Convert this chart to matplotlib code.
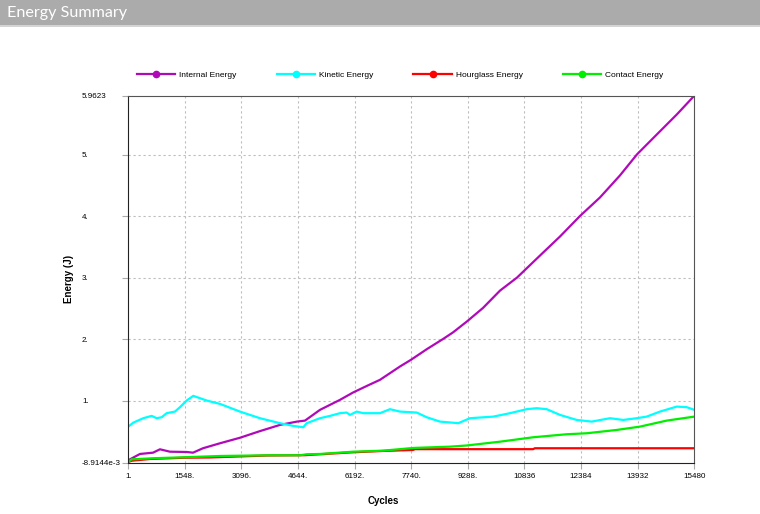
import matplotlib
matplotlib.use("Agg")
import matplotlib.pyplot as plt
from matplotlib.patches import Rectangle

# values
internal_cycles = [1, 47, 320, 676, 867, 1140, 1605, 1770, 2043, 2508, 3055, 3602, 4149,
                   4614, 4833, 5243, 5790, 6146, 6529, 6884, 7431, 7732, 8170, 8607, 8881,
                   9264, 9701, 10166, 10631, 11260, 11807, 12354, 12901, 13448, 13913,
                   14460, 15007, 15480]
internal_energy = [0.016, 0.043, 0.130, 0.151, 0.206, 0.167, 0.162, 0.151, 0.223, 0.304,
                   0.394, 0.502, 0.603, 0.657, 0.673, 0.848, 1.011, 1.130, 1.239, 1.337,
                   1.554, 1.663, 1.838, 2.001, 2.109, 2.288, 2.507, 2.789, 3.001, 3.360,
                   3.670, 4.004, 4.306, 4.665, 5.007, 5.334, 5.660, 5.9623]

kinetic_cycles = [1, 137, 410, 640, 777, 913, 1050, 1277, 1414, 1597, 1778, 2144, 2508,
                  3055, 3602, 4149, 4513, 4786, 4879, 5243, 5517, 5790, 5973, 6064, 6247,
                  6427, 6884, 7158, 7431, 7888, 8161, 8525, 9026, 9345, 9983, 10439, 10896,
                  11170, 11443, 11807, 12264, 12674, 13174, 13538, 13905, 14178, 14542,
                  14999, 15272, 15480]
kinetic_energy = [0.575, 0.640, 0.712, 0.750, 0.712, 0.728, 0.794, 0.820, 0.892, 1.000,
                  1.076, 1.000, 0.945, 0.820, 0.712, 0.631, 0.587, 0.565, 0.631, 0.712,
                  0.750, 0.794, 0.804, 0.766, 0.820, 0.794, 0.794, 0.859, 0.820, 0.804,
                  0.728, 0.657, 0.631, 0.712, 0.738, 0.794, 0.859, 0.875, 0.859, 0.766,
                  0.684, 0.657, 0.712, 0.684, 0.712, 0.738, 0.820, 0.901, 0.892, 0.848]

hourglass_cycles = [1, 93, 594, 1551, 2235, 3793, 4832, 5599, 6146, 6966, 7786, 7841,
                    11068, 11122, 15480]
hourglass_energy = [0.0, 0.020, 0.048, 0.069, 0.073, 0.105, 0.110, 0.138, 0.157, 0.179,
                    0.195, 0.208, 0.208, 0.223, 0.223]

contact_cycles = [1, 93, 684, 1504, 2508, 3876, 4697, 4879, 5243, 6155, 6975, 7796, 8798,
                  9255, 10166, 11077, 11990, 12537, 13357, 13993, 14724, 15480]
contact_energy = [0.0, 0.043, 0.060, 0.076, 0.097, 0.109, 0.109, 0.125, 0.130, 0.167,
                  0.184, 0.228, 0.249, 0.268, 0.330, 0.402, 0.451, 0.467, 0.521, 0.575,
                  0.673, 0.738]

x_ticks = [1, 1548, 3096, 4644, 6192, 7740, 9288, 10836, 12384, 13932, 15480]
x_labels = ["1.", "1548.", "3096.", "4644.", "6192.", "7740.", "9288.", "10836",
            "12384", "13932", "15480"]
y_ticks = [-8.9144e-3, 1, 2, 3, 4, 5, 5.9623]
y_labels = ["-8.9144e-3", "1.", "2.", "3.", "4.", "5.", "5.9623"]

plt.rcParams["font.family"] = ["Liberation Sans", "DejaVu Sans"]

fig = plt.figure(figsize=(7.6, 5.14), dpi=100)

# grey title strip
fig.add_artist(Rectangle((0, 1 - 25 / 514), 1, 25 / 514, transform=fig.transFigure,
                         facecolor="#ababab", edgecolor="none"))
fig.add_artist(Rectangle((0, 1 - 27 / 514), 1, 2 / 514, transform=fig.transFigure,
                         facecolor="#d4d4d4", edgecolor="none"))
fig.text(7 / 760, 1 - 13 / 514, "Energy Summary", color="white", fontsize=11.6,
         va="center", ha="left", family=["Lato", "DejaVu Sans"])

ax = fig.add_axes([128.3 / 760, 51.5 / 514, 566 / 760, 366.8 / 514])

series = [
    (internal_cycles, internal_energy, "#b00ab8", "Internal Energy"),
    (kinetic_cycles, kinetic_energy, "#00ffff", "Kinetic Energy"),
    (hourglass_cycles, hourglass_energy, "#ff0000", "Hourglass Energy"),
    (contact_cycles, contact_energy, "#00ee00", "Contact Energy"),
]
for xs, ys, col, name in series:
    ax.plot(xs, ys, color=col, lw=1.6, marker="o", markersize=0, label=name)

ax.set_xlim(1, 15480)
ax.set_ylim(-8.9144e-3, 5.9623)
ax.set_xticks(x_ticks, x_labels)
ax.set_yticks(y_ticks, y_labels)
ax.tick_params(axis="both", color="#aaaaaa", length=4.3, width=0.8, labelsize=5.8)
ax.tick_params(axis="x", pad=3)
ax.tick_params(axis="y", pad=29)
for lbl in ax.get_yticklabels():
    lbl.set_horizontalalignment("left")

for v in y_ticks[1:-1]:
    ax.axhline(v, color="#bdbdbd", lw=0.8, ls=(0, (2, 2.5)), zorder=0)
for v in x_ticks[1:-1]:
    ax.axvline(v, color="#bdbdbd", lw=0.8, ls=(0, (2, 2.5)), zorder=0)

for side in ["left", "bottom"]:
    ax.spines[side].set_color("#222222")
for side in ["top", "right"]:
    ax.spines[side].set_color("#555555")

ax.set_xlabel("Cycles", fontsize=7, fontweight="bold")
ax.xaxis.set_label_coords((383 - 128.3) / 566, -(496 - 462.5) / 366.8)
ax.set_ylabel("Energy (J)", fontsize=7, fontweight="bold")
ax.yaxis.set_label_coords((74 - 128.3) / 566, 0.5)

handles, labels = ax.get_legend_handles_labels()
leg = fig.legend(handles, labels, ncol=4, loc="center left",
                 bbox_to_anchor=(136.7 / 760, 1 - 75.3 / 514), frameon=False,
                 fontsize=6, handlelength=4.6, handletextpad=0.5, columnspacing=4.8,
                 borderpad=0, borderaxespad=0, numpoints=1)
for h in leg.legend_handles:
    h.set_markersize(4.5)

fig.savefig("out.png", dpi=100)
